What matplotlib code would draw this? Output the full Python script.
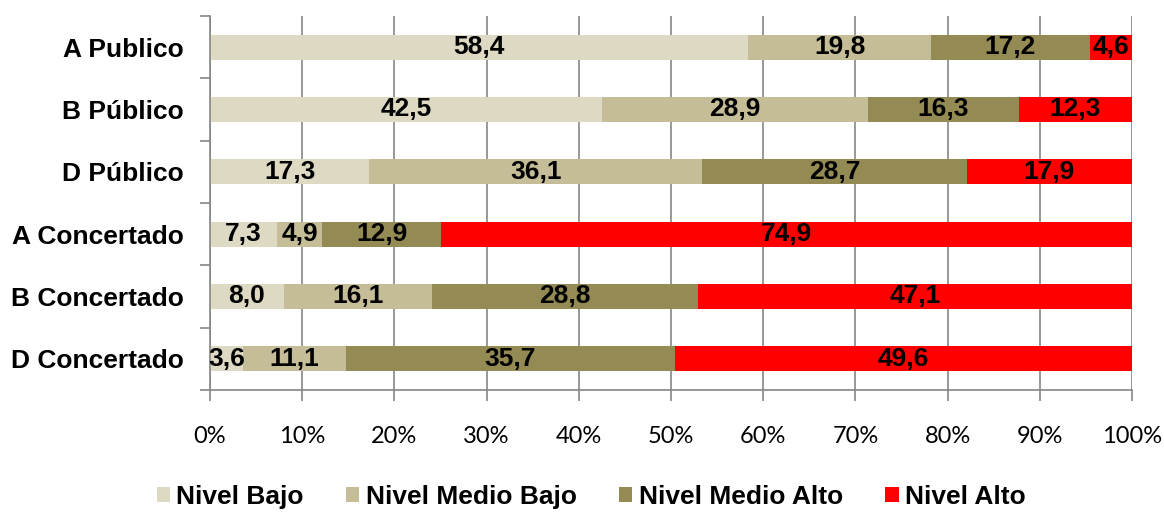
import matplotlib
matplotlib.use('Agg')
import matplotlib.pyplot as plt
import numpy as np
from matplotlib.patches import Patch

# Data
centros = ["A Publico", "B Público", "D Público",
           "A Concertado", "B Concertado", "D Concertado"]
niveles = ["Nivel Bajo", "Nivel Medio Bajo", "Nivel Medio Alto", "Nivel Alto"]
nivel_bajo = [58.4, 42.5, 17.3, 7.3, 8.0, 3.6]
nivel_medio_bajo = [19.8, 28.9, 36.1, 4.9, 16.1, 11.1]
nivel_medio_alto = [17.2, 16.3, 28.7, 12.9, 28.8, 35.7]
nivel_alto = [4.6, 12.3, 17.9, 74.9, 47.1, 49.6]
x_ticks = [0, 10, 20, 30, 40, 50, 60, 70, 80, 90, 100]

colores = ['#DDD9C3', '#C4BD97', '#948A54', '#FF0000']
series = [nivel_bajo, nivel_medio_bajo, nivel_medio_alto, nivel_alto]
BOLD = {'family': 'Liberation Sans', 'weight': 'bold', 'size': 19}

fig = plt.figure(figsize=(11.64, 5.13), dpi=100)
ax = fig.add_axes([0.1804, 0.2398, 0.9725 - 0.1804, 0.9688 - 0.2398])

y = np.arange(len(centros))
left = np.zeros(len(centros))
for vals, col in zip(series, colores):
    vals = np.array(vals)
    ax.barh(y, vals, left=left, height=0.4, color=col, edgecolor='none', zorder=2)
    for yi, l, v in zip(y, left, vals):
        ax.text(l + v / 2, yi, f"{v:.1f}".replace('.', ','), ha='center', va='center',
                fontdict=BOLD, color='black', zorder=3)
    left = left + vals

ax.set_xlim(0, 100)
ax.set_ylim(len(centros) - 0.5, -0.5)

ax.set_xticks(x_ticks)
ax.set_xticklabels([f"{t}%" for t in x_ticks], fontsize=17, family='Lato')
ax.set_yticks(y)
ax.set_yticklabels(centros, fontdict=BOLD)
ax.set_yticks(np.arange(-0.5, len(centros)), minor=True)

ax.tick_params(axis='y', which='major', length=0, pad=19)
ax.tick_params(axis='y', which='minor', length=7, width=1.2, color='#868686')
ax.tick_params(axis='x', which='major', length=8, width=1.2, color='#868686', pad=18)

ax.grid(axis='x', color='#868686', linewidth=1.2, zorder=0)
ax.set_axisbelow(True)
for s in ['top', 'right']:
    ax.spines[s].set_visible(False)
for s in ['left', 'bottom']:
    ax.spines[s].set_color('#868686')
    ax.spines[s].set_linewidth(1.2)

handles = [Patch(facecolor=c, edgecolor='none', label=n) for c, n in zip(colores, niveles)]
fig.legend(handles=handles, loc='center', bbox_to_anchor=(0.508, 0.031), ncol=4,
           frameon=False, handlelength=0.5, handleheight=0.5, handletextpad=0.25,
           columnspacing=1.6, borderpad=0, prop=BOLD)

fig.savefig('out.png', dpi=100, facecolor='white')
